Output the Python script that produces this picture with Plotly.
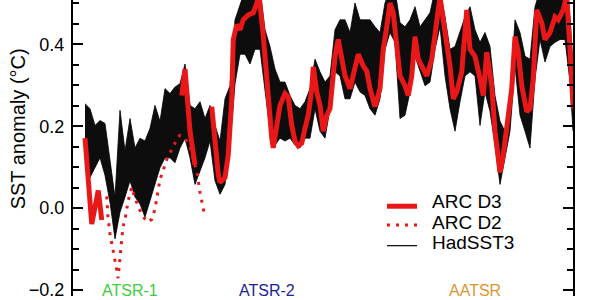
import plotly.graph_objects as go

# ---------------- data ----------------
# HadSST3 ensemble envelope (decimal years, anomaly degC)
ens_years = [1991.52, 1991.72, 1991.92, 1992.12, 1992.32, 1992.52, 1992.72, 1992.92, 1993.12, 1993.32,
             1993.52, 1993.72, 1993.92, 1994.12, 1994.32, 1994.52, 1994.72, 1994.92, 1995.12, 1995.32,
             1995.52, 1995.72, 1995.92, 1996.12, 1996.32, 1996.52, 1996.72, 1996.92, 1997.12, 1997.32,
             1997.52, 1997.72, 1997.92, 1998.12, 1998.32, 1998.52, 1998.72, 1998.92, 1999.12, 1999.32,
             1999.52, 1999.72, 1999.92, 2000.12, 2000.32, 2000.52, 2000.72, 2000.92, 2001.12, 2001.32,
             2001.52, 2001.72, 2001.92, 2002.12, 2002.32, 2002.52, 2002.72, 2002.92, 2003.12, 2003.32,
             2003.52, 2003.72, 2003.92, 2004.12, 2004.32, 2004.52, 2004.72, 2004.92, 2005.12, 2005.32,
             2005.52, 2005.72, 2005.92, 2006.12, 2006.32, 2006.52, 2006.72, 2006.92, 2007.12, 2007.32,
             2007.52, 2007.72, 2007.92, 2008.12, 2008.32, 2008.52, 2008.72, 2008.92, 2009.12, 2009.32,
             2009.52, 2009.72, 2009.92, 2010.12, 2010.32, 2010.52, 2010.72, 2010.92, 2011.04]
ens_upper = [0.255, 0.243, 0.202, 0.214, 0.207, 0.123, 0.027, 0.239, 0.140, 0.219,
             0.147, 0.171, 0.164, 0.195, 0.251, 0.212, 0.292, 0.280, 0.296, 0.304,
             0.352, 0.251, 0.243, 0.260, 0.219, 0.251, 0.202, 0.164, 0.267, 0.299,
             0.460, 0.496, 0.533, 0.533, 0.533, 0.533, 0.436, 0.395, 0.340, 0.308,
             0.308, 0.275, 0.251, 0.243, 0.260, 0.292, 0.364, 0.333, 0.308, 0.323,
             0.436, 0.460, 0.460, 0.429, 0.501, 0.460, 0.460, 0.460, 0.443, 0.429,
             0.501, 0.533, 0.533, 0.453, 0.443, 0.460, 0.492, 0.443, 0.460, 0.477,
             0.533, 0.533, 0.467, 0.388, 0.395, 0.429, 0.467, 0.492, 0.436, 0.405,
             0.429, 0.395, 0.275, 0.212, 0.188, 0.267, 0.460, 0.429, 0.371, 0.364,
             0.492, 0.533, 0.533, 0.533, 0.533, 0.533, 0.533, 0.467, 0.347]
ens_lower = [0.147, 0.075, 0.099, 0.123, 0.080, 0.014, -0.075, -0.010, 0.027, 0.067,
             0.027, 0.010, -0.022, 0.019, 0.058, 0.099, 0.123, 0.123, 0.111, 0.147,
             0.171, 0.123, 0.058, 0.092, 0.123, 0.164, 0.067, 0.034, 0.058, 0.154,
             0.304, 0.376, 0.376, 0.352, 0.388, 0.388, 0.292, 0.188, 0.154, 0.171,
             0.164, 0.171, 0.154, 0.147, 0.171, 0.171, 0.243, 0.188, 0.171, 0.243,
             0.333, 0.323, 0.267, 0.267, 0.308, 0.284, 0.275, 0.243, 0.227, 0.267,
             0.388, 0.429, 0.405, 0.219, 0.227, 0.284, 0.371, 0.333, 0.299, 0.308,
             0.388, 0.443, 0.323, 0.243, 0.188, 0.260, 0.323, 0.333, 0.323, 0.202,
             0.284, 0.236, 0.154, 0.058, 0.123, 0.188, 0.347, 0.227, 0.188, 0.147,
             0.316, 0.412, 0.357, 0.395, 0.405, 0.412, 0.412, 0.308, 0.188]

# ARC D3 (three segments, separated by gaps)
d3_years = [1991.52, 1991.79, 1992.05, 1992.19, None,
            1995.39, 1995.52, 1995.72, 1995.92, None,
            1996.59, 1996.72, 1996.85, 1996.92, 1997.12, 1997.25, 1997.39, 1997.45, 1997.59, 1997.72,
            1997.85, 1998.05, 1998.25, 1998.41, 1998.48, 1998.64, 1998.79, 1998.92, 1998.99, 1999.05,
            1999.19, 1999.32, 1999.52, 1999.65, 1999.79, 1999.92, 2000.05, 2000.19, 2000.32, 2000.45,
            2000.59, 2000.65, 2000.79, 2000.92, 2001.05, 2001.19, 2001.32, 2001.52, 2001.65, 2001.79,
            2001.92, 2002.12, 2002.32, 2002.45, 2002.65, 2002.79, 2002.92, 2003.05, 2003.12, 2003.32,
            2003.45, 2003.59, 2003.72, 2003.85, 2003.99, 2004.12, 2004.32, 2004.45, 2004.59, 2004.72,
            2004.85, 2004.99, 2005.19, 2005.39, 2005.59, 2005.72, 2005.85, 2006.12, 2006.25, 2006.39,
            2006.59, 2006.79, 2006.92, 2007.12, 2007.32, 2007.45, 2007.59, 2007.79, 2007.92, 2008.05,
            2008.12, 2008.25, 2008.39, 2008.59, 2008.72, 2008.85, 2008.99, 2009.19, 2009.32, 2009.45,
            2009.59, 2009.79, 2009.92, 2010.12, 2010.32, 2010.45, 2010.65, 2010.79, 2010.92, 2011.05]
d3_values = [0.171, -0.039, 0.043, -0.029, None,
             0.275, 0.340, 0.188, 0.106, None,
             0.248, 0.154, 0.082, 0.063, 0.075, 0.130, 0.267, 0.412, 0.448, 0.436,
             0.460, 0.472, 0.477, 0.504, 0.520, 0.429, 0.308, 0.227, 0.171, 0.147,
             0.195, 0.251, 0.280, 0.272, 0.202, 0.164, 0.152, 0.159, 0.195, 0.227,
             0.292, 0.345, 0.284, 0.251, 0.188, 0.227, 0.243, 0.371, 0.412, 0.357,
             0.323, 0.292, 0.340, 0.376, 0.347, 0.335, 0.292, 0.267, 0.248, 0.292,
             0.388, 0.443, 0.501, 0.477, 0.388, 0.323, 0.299, 0.275, 0.323, 0.419,
             0.364, 0.347, 0.323, 0.364, 0.443, 0.516, 0.460, 0.347, 0.267, 0.284,
             0.333, 0.484, 0.388, 0.371, 0.316, 0.275, 0.381, 0.299, 0.188, 0.123,
             0.087, 0.130, 0.202, 0.292, 0.419, 0.381, 0.299, 0.236, 0.243, 0.316,
             0.484, 0.453, 0.412, 0.429, 0.467, 0.460, 0.484, 0.520, 0.388, 0.243]

# ARC D2 (ATSR-1 period)
d2_years = [1992.39, 1992.44, 1992.52, 1992.64, 1992.72, 1992.80, 1992.84, 1992.92, 1992.99, 1993.04,
            1993.12, 1993.19, 1993.25, 1993.39, 1993.44, 1993.59, 1993.72, 1993.92, 1994.04, 1994.19,
            1994.32, 1994.40, 1994.52, 1994.72, 1994.84, 1995.04, 1995.20, 1995.32, 1995.52, 1995.72,
            1996.00, 1996.12, 1996.24, 1996.32]
d2_values = [0.029, -0.022, -0.063, -0.099, -0.123, -0.154, -0.171, -0.123, -0.089, -0.046,
             -0.027, -0.002, 0.019, 0.051, 0.039, 0.014, -0.005, -0.027, -0.034, -0.027,
             -0.002, 0.027, 0.070, 0.106, 0.128, 0.147, 0.171, 0.178, 0.170, 0.150,
             0.087, 0.039, -0.002, -0.022]

series_names = ["ARC D3", "ARC D2", "HadSST3"]
instruments = ["ATSR-1", "ATSR-2", "AATSR"]

# ---------------- styles ----------------
RED = "rgb(232,24,24)"
FONT = "Liberation Sans, Arial, sans-serif"
inst_colors = ["rgb(60,205,60)", "rgb(30,30,150)", "rgb(222,150,50)"]
inst_x = [0.114, 0.387, 0.804]
Y_RANGE = [-0.2145, 0.5084]

fig = go.Figure()

fig.add_trace(go.Scatter(x=ens_years, y=ens_lower, mode="lines",
                         line=dict(color="black", width=0.8), showlegend=False, hoverinfo="skip"))
fig.add_trace(go.Scatter(x=ens_years, y=ens_upper, mode="lines", fill="tonexty",
                         fillcolor="rgba(0,0,0,0.95)",
                         line=dict(color="black", width=0.8), name=series_names[2], showlegend=False))
fig.add_trace(go.Scatter(x=d3_years, y=d3_values, mode="lines", connectgaps=False,
                         line=dict(color=RED, width=5), name=series_names[0], showlegend=False))
# D2 drawn on an overlay y axis (same range) that carries the minor ticks
fig.add_trace(go.Scatter(x=d2_years, y=d2_values, mode="lines", yaxis="y2",
                         line=dict(color=RED, width=3, dash="3px,6px"), name=series_names[1], showlegend=False))

fig.update_layout(
    width=600, height=300,
    margin=dict(l=73, r=27, t=0, b=0),
    paper_bgcolor="white", plot_bgcolor="white",
    font=dict(family=FONT, color="black"),
    showlegend=False,
    xaxis=dict(range=[1991.04, 2011.04], visible=False),
    yaxis=dict(
        range=Y_RANGE,
        tickmode="linear", tick0=0, dtick=0.2, tickformat=".1f",
        ticks="inside", ticklen=10, tickwidth=2, tickcolor="black",
        showline=True, linewidth=2, linecolor="black", mirror="ticks",
        showgrid=False, zeroline=False, ticklabeloverflow="allow",
        ticklabelstandoff=3,
        tickfont=dict(size=18, family=FONT, color="black"),
    ),
    yaxis2=dict(
        range=Y_RANGE, overlaying="y", side="left", anchor="x",
        tickmode="linear", tick0=0, dtick=0.05,
        ticks="inside", ticklen=6, tickwidth=2, tickcolor="black",
        showticklabels=False, showline=False, mirror="ticks",
        showgrid=False, zeroline=False,
    ),
)

annotations = [
    dict(text="SST anomaly (°C)", xref="paper", yref="paper", x=-0.11, y=0.563,
         textangle=-90, showarrow=False, font=dict(size=20, family=FONT, color="black"),
         xanchor="center", yanchor="middle"),
]
for name, col, xp in zip(instruments, inst_colors, inst_x):
    annotations.append(dict(text=name, xref="paper", yref="paper", x=xp, y=0.018, showarrow=False,
                            font=dict(size=16, family=FONT, color=col), xanchor="center", yanchor="middle"))
leg_y_text = [0.32, 0.2483, 0.18]
for name, yp in zip(series_names, leg_y_text):
    annotations.append(dict(text=name, xref="paper", yref="paper", x=0.714, y=yp, showarrow=False,
                            font=dict(size=19, family=FONT, color="black"), xanchor="left", yanchor="middle"))
fig.update_layout(annotations=annotations)

# legend keys
fig.add_shape(type="line", xref="paper", yref="paper", x0=0.628, x1=0.688, y0=0.3033, y1=0.3033,
              line=dict(color=RED, width=5))
fig.add_shape(type="line", xref="paper", yref="paper", x0=0.628, x1=0.688, y0=0.24, y1=0.24,
              line=dict(color=RED, width=3, dash="3px,6px"))
fig.add_shape(type="line", xref="paper", yref="paper", x0=0.628, x1=0.688, y0=0.17, y1=0.17,
              line=dict(color="black", width=1.2))

fig.write_html("out.html")
